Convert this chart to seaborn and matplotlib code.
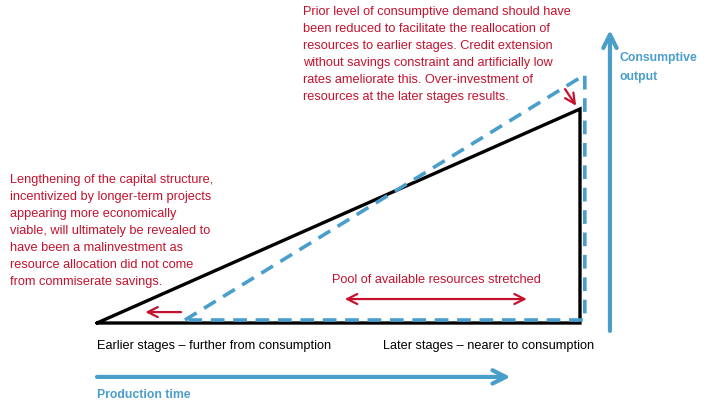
import matplotlib
matplotlib.use("Agg")
import matplotlib.pyplot as plt
import seaborn as sns
import pandas as pd
import numpy as np
from matplotlib import font_manager

# --- data (conceptual Hayekian triangle, production time % vs consumptive output %) ---
original_x = [0, 100, 100, 0]
original_y = [0, 100, 0, 0]
stretched_x = [18.2, 101, 101, 18.2]
stretched_y = [1.4, 116, 1.4, 1.4]

top_note = ("Prior level of consumptive demand should have\n"
            "been reduced to facilitate the reallocation of\n"
            "resources to earlier stages. Credit extension\n"
            "without savings constraint and artificially low\n"
            "rates ameliorate this. Over-investment of\n"
            "resources at the later stages results.")
left_note = ("Lengthening of the capital structure,\n"
             "incentivized by longer-term projects\n"
             "appearing more economically\n"
             "viable, will ultimately be revealed to\n"
             "have been a malinvestment as\n"
             "resource allocation did not come\n"
             "from commiserate savings.")
pool_label = "Pool of available resources stretched"
early_label = "Earlier stages \u2013 further from consumption"
late_label = "Later stages \u2013 nearer to consumption"
xaxis_label = "Production time"
yaxis_label = "Consumptive\noutput"

RED = "#C4122E"
BLUE = "#4A9ECB"
names = {f.name for f in font_manager.fontManager.ttflist}
FONT = ["Liberation Sans Narrow"] if "Liberation Sans Narrow" in names else ["Liberation Sans"]
FONT = FONT + ["DejaVu Sans"]
NARROW = FONT[0] == "Liberation Sans Narrow"

sns.set_theme(style="white")
plt.rcParams["font.family"] = FONT

fig = plt.figure(figsize=(7.09, 4.14), dpi=100)
ax = fig.add_axes([0, 0, 1, 1])
ax.set_xlim(-97 / 4.83, (709 - 97) / 4.83)
ax.set_ylim((324 - 414) / 2.14, 324 / 2.14)
ax.axis("off")

df_orig = pd.DataFrame({"x": original_x, "y": original_y})
df_str = pd.DataFrame({"x": stretched_x, "y": stretched_y})
sns.lineplot(data=df_orig, x="x", y="y", sort=False, estimator=None,
             color="black", lw=2.4, ax=ax, solid_joinstyle="miter")
sns.lineplot(data=df_str, x="x", y="y", sort=False, estimator=None,
             color=BLUE, lw=2.6, ax=ax, dashes=False, linestyle=(0, (3.8, 2.4)))

# axes arrows
ax.annotate("", xy=(85.6, -25.2), xytext=(0, -25.2),
            arrowprops=dict(arrowstyle="->,head_length=0.8,head_width=0.4",
                            color=BLUE, lw=3, shrinkA=0, shrinkB=0))
ax.annotate("", xy=(106.2, 136.9), xytext=(106.2, -3.7),
            arrowprops=dict(arrowstyle="->,head_length=0.8,head_width=0.4",
                            color=BLUE, lw=3, shrinkA=0, shrinkB=0))

# red arrows
ax.annotate("", xy=(10, 5.1), xytext=(17.4, 5.1),
            arrowprops=dict(arrowstyle="->,head_length=0.6,head_width=0.3",
                            color=RED, lw=1.6, shrinkA=0, shrinkB=0))
ax.annotate("", xy=(51.3, 11.2), xytext=(89, 11.2),
            arrowprops=dict(arrowstyle="<->,head_length=0.6,head_width=0.3",
                            color=RED, lw=1.6, shrinkA=0, shrinkB=0))
ax.annotate("", xy=(99.2, 101.5), xytext=(96.9, 109.3),
            arrowprops=dict(arrowstyle="->,head_length=0.6,head_width=0.3",
                            color=RED, lw=1.6, shrinkA=0, shrinkB=0))

W, H = 709, 414
def fx(p):
    return p / W
def fy(p):
    return 1 - p / H

base = 10 if NARROW else 8.6
fs = base * 1.072
fsb = base * 1.03
ls = 17.2 / (fs / 72 * 100 * 0.865)
lsb = 19.5 / (fsb / 72 * 100 * 0.865)
fig.text(fx(303), fy(6), top_note, color=RED, fontsize=fs, va="top", ha="left",
         linespacing=ls)
fig.text(fx(10), fy(174), left_note, color=RED, fontsize=fs, va="top", ha="left",
         linespacing=ls)
fig.text(fx(436), fy(280), pool_label, color=RED, fontsize=fs, va="center", ha="center")
fig.text(fx(97), fy(346), early_label, color="black", fontsize=fs, va="center", ha="left")
fig.text(fx(383), fy(346), late_label, color="black", fontsize=fs, va="center", ha="left")
fig.text(fx(97), fy(395), xaxis_label, color=BLUE, fontsize=fsb, va="center", ha="left",
         fontweight="bold")
fig.text(fx(620), fy(52), yaxis_label, color=BLUE, fontsize=fsb, va="top", ha="left",
         fontweight="bold", linespacing=lsb)

fig.savefig("out.png", dpi=100)
